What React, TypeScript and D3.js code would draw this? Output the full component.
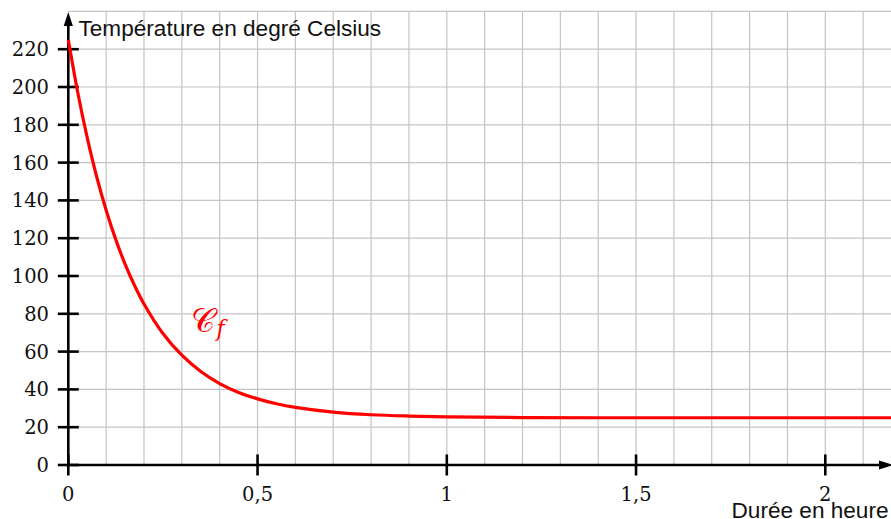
import * as d3 from 'd3';

// readings taken off the curve (hours, °C)
const durations = [0, 0.025, 0.05, 0.075, 0.1, 0.125, 0.15, 0.175, 0.2, 0.25, 0.3, 0.35, 0.4, 0.45, 0.5, 0.55, 0.6, 0.7, 0.8, 0.9, 1.0, 1.2, 1.5, 1.8, 2.2];
const temperatures = [225, 197.1, 173.2, 152.5, 134.8, 119.5, 106.3, 95, 85.2, 69.6, 58.1, 49.5, 43.1, 38.4, 35, 32.4, 30.5, 28, 26.6, 25.9, 25.5, 25.1, 25, 25, 25];

const yTicks = [0, 20, 40, 60, 80, 100, 120, 140, 160, 180, 200, 220];
const xTicks = [0, 0.5, 1, 1.5, 2];
const xTickLabels = ['0', '0,5', '1', '1,5', '2'];
const xGrid = d3.range(1, 22).map((i) => i / 10);
const yGrid = d3.range(20, 241, 20);

const width = 891;
const height = 519;

const App = () => {
  const x = d3.scaleLinear().domain([0, 2.2]).range([68.3, 68.3 + 2.2 * 378.5]);
  const y = d3.scaleLinear().domain([0, 240]).range([465, 11.4]);

  const points = durations.map((d, i) => [d, temperatures[i]] as [number, number]);
  const line = d3
    .line<[number, number]>()
    .curve(d3.curveCatmullRom.alpha(0.5))
    .x((d) => x(d[0]))
    .y((d) => y(d[1]));

  const x0 = x(0);
  const y0 = y(0);

  return (
    <svg
      width={width}
      height={height}
      style={{ position: 'absolute', left: 0, top: 0, background: '#fff' }}
    >
      {/* grid */}
      <g stroke="#c4c4c4" strokeWidth={1.2}>
        {xGrid.map((g) => (
          <line key={'vx' + g} x1={x(g)} x2={x(g)} y1={y(240)} y2={y0} />
        ))}
        {yGrid.map((g) => (
          <line key={'hy' + g} x1={x0} x2={width} y1={y(g)} y2={y(g)} />
        ))}
      </g>

      {/* axes */}
      <g stroke="#000" strokeWidth={2.6} fill="none">
        <line x1={x0} x2={x0} y1={y0 + 1} y2={18} />
        <line x1={x0 - 1} x2={886} y1={y0} y2={y0} />
        {yTicks.map((t) => (
          <line key={'yt' + t} x1={x0 - 10.5} x2={x0 + 10.5} y1={y(t)} y2={y(t)} />
        ))}
        {xTicks.map((t) => (
          <line key={'xt' + t} x1={x(t)} x2={x(t)} y1={y0 - 10.5} y2={y0 + 10.5} />
        ))}
      </g>
      <path d={`M${x0},12 L${x0 - 4.6},26 L${x0 + 4.6},26 Z`} fill="#000" />
      <path d={`M893,${y0} L879,${y0 - 4.6} L879,${y0 + 4.6} Z`} fill="#000" />

      {/* curve */}
      <path d={line(points) ?? ''} fill="none" stroke="#ff0000" strokeWidth={3.2} />

      {/* tick labels */}
      <g fontFamily="'DejaVu Serif', serif" fontSize={19.5} fill="#111">
        {yTicks.map((t) => (
          <text key={'yl' + t} x={49} y={y(t)} dy="0.36em" textAnchor="end">
            {t}
          </text>
        ))}
        {xTicks.map((t, i) => (
          <text key={'xl' + t} x={x(t)} y={501} textAnchor="middle">
            {xTickLabels[i]}
          </text>
        ))}
      </g>

      {/* axis titles */}
      <g fontFamily="'Liberation Sans', Arial, sans-serif" fontSize={22.6} fill="#111">
        <text x={78.5} y={35.5}>Température en degré Celsius</text>
        <text x={731.5} y={517.5}>Durée en heure</text>
      </g>

      {/* curve name */}
      <text x={x(0.323)} y={y(70.5)} fill="#ff0000" fontFamily="'DejaVu Serif', serif">
        <tspan fontSize={33}>𝒞</tspan>
        <tspan fontSize={22} fontStyle="italic" dx={2} dy={4}>f</tspan>
      </text>
    </svg>
  );
};

export default App;
